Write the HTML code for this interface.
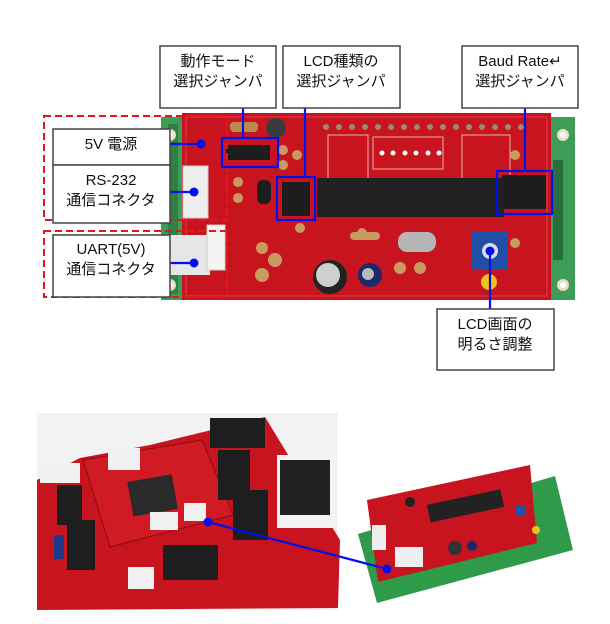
<!DOCTYPE html>
<html><head><meta charset="utf-8"><style>
html,body{margin:0;padding:0;background:#fff;}
svg{display:block;}
text{font-family:"Liberation Sans","Noto Sans CJK JP",sans-serif;}
</style></head><body>
<svg width="610" height="624" viewBox="0 0 610 624" xmlns="http://www.w3.org/2000/svg">
<rect width="610" height="624" fill="#fff"/>
<!-- top board: green LCD -->
<rect x="161" y="117" width="414" height="183" fill="#3d9c55"/>
<rect x="168" y="124" width="10" height="170" fill="#2f8045"/>
<circle cx="170" cy="135" r="6" fill="#e8e0c0"/><circle cx="170" cy="135" r="3" fill="#fff"/>
<circle cx="170" cy="285" r="6" fill="#e8e0c0"/><circle cx="170" cy="285" r="3" fill="#fff"/>
<circle cx="563" cy="135" r="6" fill="#e8e0c0"/><circle cx="563" cy="135" r="3" fill="#fff"/>
<circle cx="563" cy="285" r="6" fill="#e8e0c0"/><circle cx="563" cy="285" r="3" fill="#fff"/>
<rect x="553" y="160" width="10" height="100" fill="#2a6e3c"/>
<!-- red PCB -->
<rect x="182" y="113" width="369" height="187" fill="#c8141e"/>
<rect x="186" y="117" width="361" height="179" fill="none" stroke="#e04a50" stroke-width="0.8"/>
<g fill="#9a8a70">
<circle cx="326" cy="127" r="3"/><circle cx="339" cy="127" r="3"/><circle cx="352" cy="127" r="3"/><circle cx="365" cy="127" r="3"/><circle cx="378" cy="127" r="3"/><circle cx="391" cy="127" r="3"/><circle cx="404" cy="127" r="3"/><circle cx="417" cy="127" r="3"/><circle cx="430" cy="127" r="3"/><circle cx="443" cy="127" r="3"/><circle cx="456" cy="127" r="3"/><circle cx="469" cy="127" r="3"/><circle cx="482" cy="127" r="3"/><circle cx="495" cy="127" r="3"/><circle cx="508" cy="127" r="3"/><circle cx="521" cy="127" r="3"/>
</g>
<g fill="none" stroke="#f3d8d8" stroke-width="0.8">
<rect x="328" y="135" width="40" height="45"/><rect x="373" y="137" width="70" height="32"/><rect x="462" y="135" width="48" height="45"/>
</g>
<g fill="#fff"><circle cx="382" cy="153" r="2.5"/><circle cx="393" cy="153" r="2.5"/><circle cx="405" cy="153" r="2.5"/><circle cx="416" cy="153" r="2.5"/><circle cx="428" cy="153" r="2.5"/><circle cx="439" cy="153" r="2.5"/></g>
<rect x="317" y="178" width="187" height="39" fill="#222"/>
<rect x="226" y="145" width="44" height="15" fill="#1d1d1d"/>
<rect x="282" y="182" width="28" height="34" fill="#1d1d1d"/>
<rect x="502" y="175" width="44" height="34" fill="#1d1d1d"/>
<circle cx="276" cy="128" r="10" fill="#3a3a3a"/>
<rect x="230" y="122" width="28" height="10" rx="4" fill="#b88a50"/>
<rect x="257" y="180" width="14" height="24" rx="6" fill="#1e1e1e"/>
<g fill="#c99a60"><circle cx="283" cy="150" r="5"/><circle cx="283" cy="165" r="5"/><circle cx="238" cy="182" r="5"/><circle cx="238" cy="198" r="5"/><circle cx="297" cy="155" r="5"/><circle cx="262" cy="248" r="6"/><circle cx="275" cy="260" r="7"/><circle cx="262" cy="275" r="7"/><circle cx="362" cy="233" r="5"/><circle cx="400" cy="268" r="6"/><circle cx="420" cy="268" r="6"/><circle cx="515" cy="243" r="5"/><circle cx="515" cy="155" r="5"/><circle cx="300" cy="228" r="5"/><rect x="350" y="232" width="30" height="8" rx="4"/></g>
<rect x="398" y="232" width="38" height="20" rx="9" fill="#b5b5b5"/>
<circle cx="330" cy="277" r="17" fill="#222"/><circle cx="328" cy="275" r="12" fill="#cfcfcf"/>
<circle cx="370" cy="275" r="12" fill="#1a2a6a"/><circle cx="368" cy="274" r="6" fill="#bbb"/>
<rect x="472" y="232" width="35" height="38" fill="#1f4fa8"/><circle cx="490" cy="251" r="8" fill="#ddd"/>
<circle cx="489" cy="282" r="8" fill="#f0c020"/>
<rect x="183" y="166" width="25" height="52" fill="#eee" stroke="#ccc"/>
<rect x="170" y="235" width="40" height="40" fill="#e6e6e6"/>
<rect x="207" y="225" width="18" height="45" fill="#f4f4f4" stroke="#ccc"/>

<rect x="44" y="116" width="183" height="104" fill="none" stroke="#e8141e" stroke-width="2" stroke-dasharray="7,4"/>
<rect x="44" y="231" width="183" height="66" fill="none" stroke="#e8141e" stroke-width="2" stroke-dasharray="7,4"/>

<!-- bottom left photo -->
<rect x="37" y="413" width="301" height="197" fill="#f2f2f2"/>
<polygon points="37,480 80,458 150,445 265,417 340,540 338,608 37,610" fill="#c8141e"/>
<polygon points="83,460 202,440 233,515 110,547" fill="#d01a24" stroke="#8a0c12"/>
<rect x="130" y="478" width="45" height="35" fill="#2a2a2a" transform="rotate(-10 152 495)"/>
<rect x="210" y="418" width="55" height="30" fill="#1e1e1e"/>
<rect x="218" y="450" width="32" height="50" fill="#1e1e1e"/>
<rect x="233" y="490" width="35" height="50" fill="#1e1e1e"/>
<rect x="57" y="485" width="25" height="40" fill="#1e1e1e"/>
<rect x="67" y="520" width="28" height="50" fill="#1e1e1e"/>
<rect x="163" y="545" width="55" height="35" fill="#1e1e1e"/>
<rect x="277" y="455" width="58" height="73" fill="#f4f4f4"/>
<rect x="280" y="460" width="50" height="55" fill="#222"/>
<g fill="#f0f0f0"><rect x="40" y="463" width="40" height="20"/><rect x="108" y="448" width="32" height="22"/><rect x="150" y="512" width="28" height="18"/><rect x="184" y="503" width="22" height="18"/><rect x="128" y="567" width="26" height="22"/></g>
<rect x="54" y="535" width="10" height="24" fill="#1e3a8a"/>

<!-- bottom right photo -->
<polygon points="358,534 555,476 573,550 377,603" fill="#2f9a4a"/>
<polygon points="367,500 530,465 537,543 378,582" fill="#c8141e"/>
<rect x="428" y="497" width="75" height="18" fill="#222" transform="rotate(-12 465 506)"/>
<circle cx="410" cy="502" r="5" fill="#222"/>
<rect x="395" y="547" width="28" height="20" fill="#eee"/>
<rect x="372" y="525" width="14" height="25" fill="#eee"/>
<rect x="515" y="505" width="10" height="10" fill="#1f4fa8"/>
<circle cx="536" cy="530" r="4" fill="#f0c020"/>
<circle cx="455" cy="548" r="7" fill="#333"/><circle cx="472" cy="546" r="5" fill="#1a2a6a"/>

<!-- blue highlights & connectors -->
<g stroke="#0010ee" stroke-width="2.2" fill="none">
<rect x="222" y="138" width="56" height="29"/>
<rect x="277" y="177" width="38" height="43"/>
<rect x="497" y="171" width="55" height="43"/>
<line x1="243" y1="108" x2="243" y2="138"/>
<line x1="305" y1="108" x2="305" y2="177"/>
<line x1="525" y1="108" x2="525" y2="171"/>
<line x1="170" y1="144" x2="201" y2="144"/>
<line x1="170" y1="192" x2="194" y2="192"/>
<line x1="170" y1="263" x2="194" y2="263"/>
<line x1="490" y1="251" x2="490" y2="309"/>
<line x1="208" y1="522" x2="387" y2="569"/>
</g>
<g fill="#0010ee"><circle cx="201" cy="144" r="4.5"/><circle cx="194" cy="192" r="4.5"/><circle cx="194" cy="263" r="4.5"/><circle cx="490" cy="251" r="4.5"/><circle cx="208" cy="522" r="4.5"/><circle cx="387" cy="569" r="4.5"/></g>

<!-- label boxes -->
<g fill="#fff" stroke="#444" stroke-width="1.5">
<rect x="160" y="46" width="116" height="62"/>
<rect x="283" y="46" width="117" height="62"/>
<rect x="462" y="46" width="116" height="62"/>
<rect x="53" y="129" width="117" height="36"/>
<rect x="53" y="165" width="117" height="58"/>
<rect x="53" y="235" width="117" height="62"/>
<rect x="437" y="309" width="117" height="61"/>
</g>
<g font-size="15" fill="#111" text-anchor="middle">
<text x="218" y="66">動作モード</text><text x="218" y="86">選択ジャンパ</text>
<text x="341" y="66">LCD種類の</text><text x="341" y="86">選択ジャンパ</text>
<text x="520" y="66">Baud Rate↵</text><text x="520" y="86">選択ジャンパ</text>
<text x="111" y="149">5V 電源</text>
<text x="111" y="185">RS-232</text><text x="111" y="205">通信コネクタ</text>
<text x="111" y="254">UART(5V)</text><text x="111" y="274">通信コネクタ</text>
<text x="495" y="329">LCD画面の</text><text x="495" y="349">明るさ調整</text>
</g>
</svg>
</body></html>
